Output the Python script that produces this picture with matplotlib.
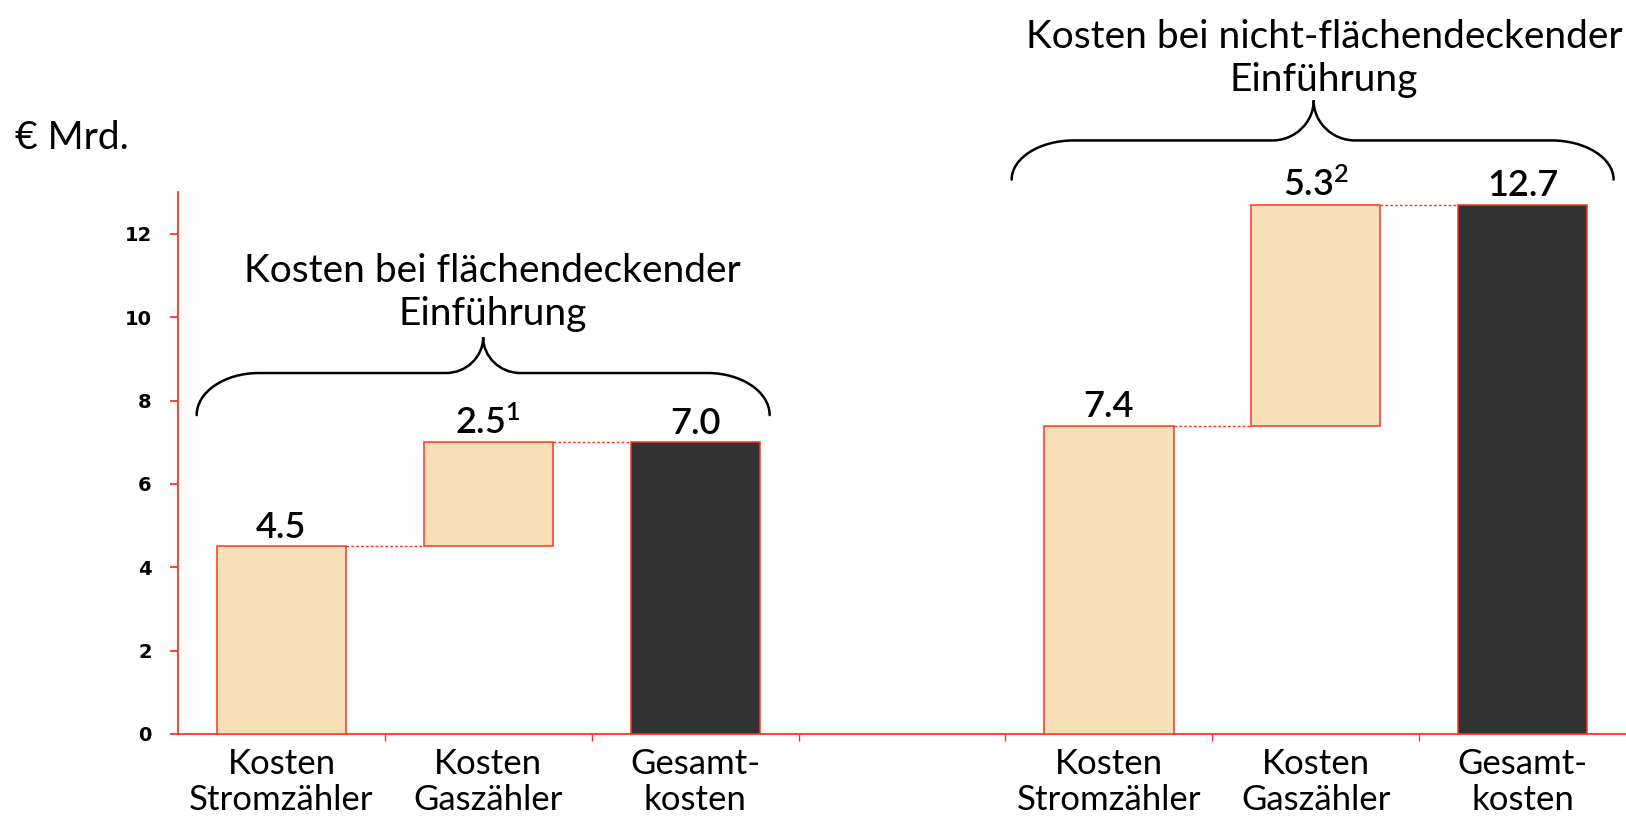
import matplotlib
matplotlib.use("Agg")
import matplotlib.pyplot as plt
from matplotlib.path import Path
from matplotlib.patches import PathPatch

# ---------------- data ----------------
category_labels = ["Kosten\nStromzähler", "Kosten\nGaszähler", "Gesamt-\nkosten",
                   "", "Kosten\nStromzähler", "Kosten\nGaszähler", "Gesamt-\nkosten"]
group_titles = ["Kosten bei flächendeckender\nEinführung",
                "Kosten bei nicht-flächendeckender\nEinführung"]
flaechendeckend = [4.5, 2.5, 7.0]          # Strom, Gas, Gesamt
nicht_flaechendeckend = [7.4, 5.3, 12.7]   # Strom, Gas, Gesamt
value_text_flaechen = ["4.5", "2.5$^{1}$", "7.0"]
value_text_nicht = ["7.4", "5.3$^{2}$", "12.7"]
yticks = [0, 2, 4, 6, 8, 10, 12]
unit_label = "€ Mrd."

# ---------------- style ----------------
plt.rcParams['font.family'] = ['Lato', 'DejaVu Sans']
plt.rcParams['mathtext.fontset'] = 'custom'
plt.rcParams['mathtext.rm'] = 'Lato:semibold'
plt.rcParams['mathtext.it'] = 'Lato:semibold'
plt.rcParams['mathtext.bf'] = 'Lato:bold'
RED = '#ff3322'
BEIGE = '#f7dfb7'
DARK = '#333333'
BAR_W = 0.625

fig = plt.figure(figsize=(16.26, 8.26), dpi=100)
ax = fig.add_axes([0.1095, 0.1114, 0.8905, 0.656])
ax.set_xlim(-0.5, 6.5)
ax.set_ylim(0, 13)


def draw_group(x0, values, texts):
    xs = [x0, x0 + 1, x0 + 2]
    bottoms = [0, values[0], 0]
    colors = [BEIGE, BEIGE, DARK]
    ax.bar(xs, values, width=BAR_W, bottom=bottoms, color=colors,
           edgecolor=RED, linewidth=1.1, zorder=3)
    tops = [b + v for b, v in zip(bottoms, values)]
    # connectors
    for i in range(2):
        ax.plot([xs[i] + BAR_W / 2, xs[i + 1] - BAR_W / 2], [tops[i], tops[i]],
                color=RED, lw=1.0, ls=(0, (2, 1.5)), zorder=2)
    for x, t, s in zip(xs, tops, texts):
        ax.annotate(s, (x, t), xytext=(0, 6), textcoords='offset points',
                    ha='center', va='baseline', fontsize=26, fontweight='semibold',
                    color='black')


draw_group(0, flaechendeckend, value_text_flaechen)
draw_group(4, nicht_flaechendeckend, value_text_nicht)


def brace(xl, xr, xt, y_end, y_line, y_tip, rx, rt, lw=1.8):
    k = 0.55
    verts = [
        (xl, y_end),
        (xl, y_end + k * (y_line - y_end)), (xl + rx * (1 - k), y_line), (xl + rx, y_line),
        (xt - rt, y_line),
        (xt - rt + rt * k, y_line), (xt, y_tip - k * (y_tip - y_line)), (xt, y_tip),
        (xt, y_tip - k * (y_tip - y_line)), (xt + rt - rt * k, y_line), (xt + rt, y_line),
        (xr - rx, y_line),
        (xr - rx * (1 - k), y_line), (xr, y_end + k * (y_line - y_end)), (xr, y_end),
    ]
    codes = [Path.MOVETO,
             Path.CURVE4, Path.CURVE4, Path.CURVE4,
             Path.LINETO,
             Path.CURVE4, Path.CURVE4, Path.CURVE4,
             Path.CURVE4, Path.CURVE4, Path.CURVE4,
             Path.LINETO,
             Path.CURVE4, Path.CURVE4, Path.CURVE4]
    p = PathPatch(Path(verts, codes), fill=False, edgecolor='black', lw=lw,
                  clip_on=False, zorder=4, capstyle='round')
    ax.add_patch(p)


brace(-0.41, 2.36, 0.975, 7.65, 8.66, 9.52, 0.30, 0.18)
brace(3.53, 6.44, 4.99, 13.3, 14.24, 15.2, 0.30, 0.20)

ax.text(1.02, 10.6, group_titles[0], ha='center', va='center', fontsize=28,
        linespacing=1.25, clip_on=False)
ax.text(5.04, 16.2, group_titles[1], ha='center', va='center', fontsize=28,
        linespacing=1.25, clip_on=False)

fig.text(0.009, 0.833, unit_label, ha='left', va='center', fontsize=28)

# axes styling
for s in ['top', 'right']:
    ax.spines[s].set_visible(False)
for s in ['left', 'bottom']:
    ax.spines[s].set_color(RED)
    ax.spines[s].set_linewidth(1.3)

ax.set_yticks(yticks)
ax.set_yticklabels([str(v) for v in yticks], fontfamily='DejaVu Sans',
                   fontweight='bold', fontsize=14)
ax.tick_params(axis='y', colors=RED, labelcolor='black', length=6, width=1.3, pad=13)

ax.set_xticks(range(7))
ax.set_xticklabels(category_labels, fontsize=25, linespacing=1.15)
ax.tick_params(axis='x', length=0, pad=10, labelcolor='black')
ax.set_xticks([i + 0.5 for i in range(6)], minor=True)
ax.tick_params(axis='x', which='minor', colors=RED, length=5, width=1.0, direction='out')

fig.savefig('out.png', dpi=100)
